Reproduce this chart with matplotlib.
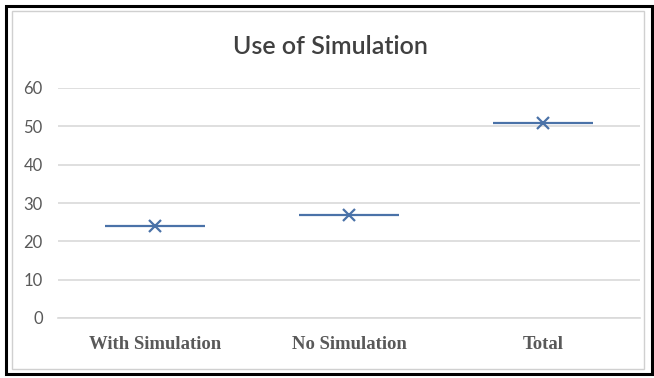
import matplotlib.pyplot as plt
from matplotlib.patches import Rectangle

categories = ['With Simulation', 'No Simulation', 'Total']
values = [24, 27, 51]
y_ticks = [0, 10, 20, 30, 40, 50, 60]

line_color = '#4a72a8'
grid_color = '#d9d9d9'
text_color = '#595959'

fig = plt.figure(figsize=(6.54, 3.78), dpi=100)
fig.patch.set_facecolor('white')

# outer frame and inner chart panel
fig.add_artist(Rectangle((6 / 654, 4 / 378), 646 / 654, 368 / 378, transform=fig.transFigure,
                         fill=False, edgecolor='black', linewidth=2.2))
fig.add_artist(Rectangle((12 / 654, 9 / 378), 632 / 654, 358 / 378, transform=fig.transFigure,
                         fill=False, edgecolor='#d0d0d0', linewidth=1.0))

ax = fig.add_axes([58 / 654, 60 / 378, 582 / 654, 230 / 378])
x = list(range(len(categories)))

ax.hlines(values, [i - 0.26 for i in x], [i + 0.26 for i in x], color=line_color, linewidth=1.6, zorder=3)
ax.plot(x, values, linestyle='none', marker='x', markersize=8, markeredgewidth=1.6,
        color=line_color, zorder=4)

ax.set_xlim(-0.5, len(categories) - 0.5)
ax.set_ylim(0, 60)
ax.set_yticks(y_ticks)
ax.set_yticklabels([str(t) for t in y_ticks], fontfamily='Lato', fontsize=12, color=text_color)
ax.set_xticks(x)
ax.set_xticklabels(categories, fontfamily='Liberation Serif', fontweight='bold', fontsize=13.5,
                   color=text_color)
ax.tick_params(axis='both', length=0)
ax.tick_params(axis='x', pad=13)
ax.tick_params(axis='y', pad=11)

ax.grid(axis='y', color=grid_color, linewidth=1.2)
ax.set_axisbelow(True)
for side in ['top', 'right', 'left']:
    ax.spines[side].set_visible(False)
ax.spines['bottom'].set_color(grid_color)
ax.spines['bottom'].set_linewidth(1.2)

fig.text(0.505, 0.878, 'Use of Simulation', ha='center', va='center', fontfamily='Lato',
         fontweight='semibold', fontsize=18, color='#404040')

fig.savefig('out.png', dpi=100)
